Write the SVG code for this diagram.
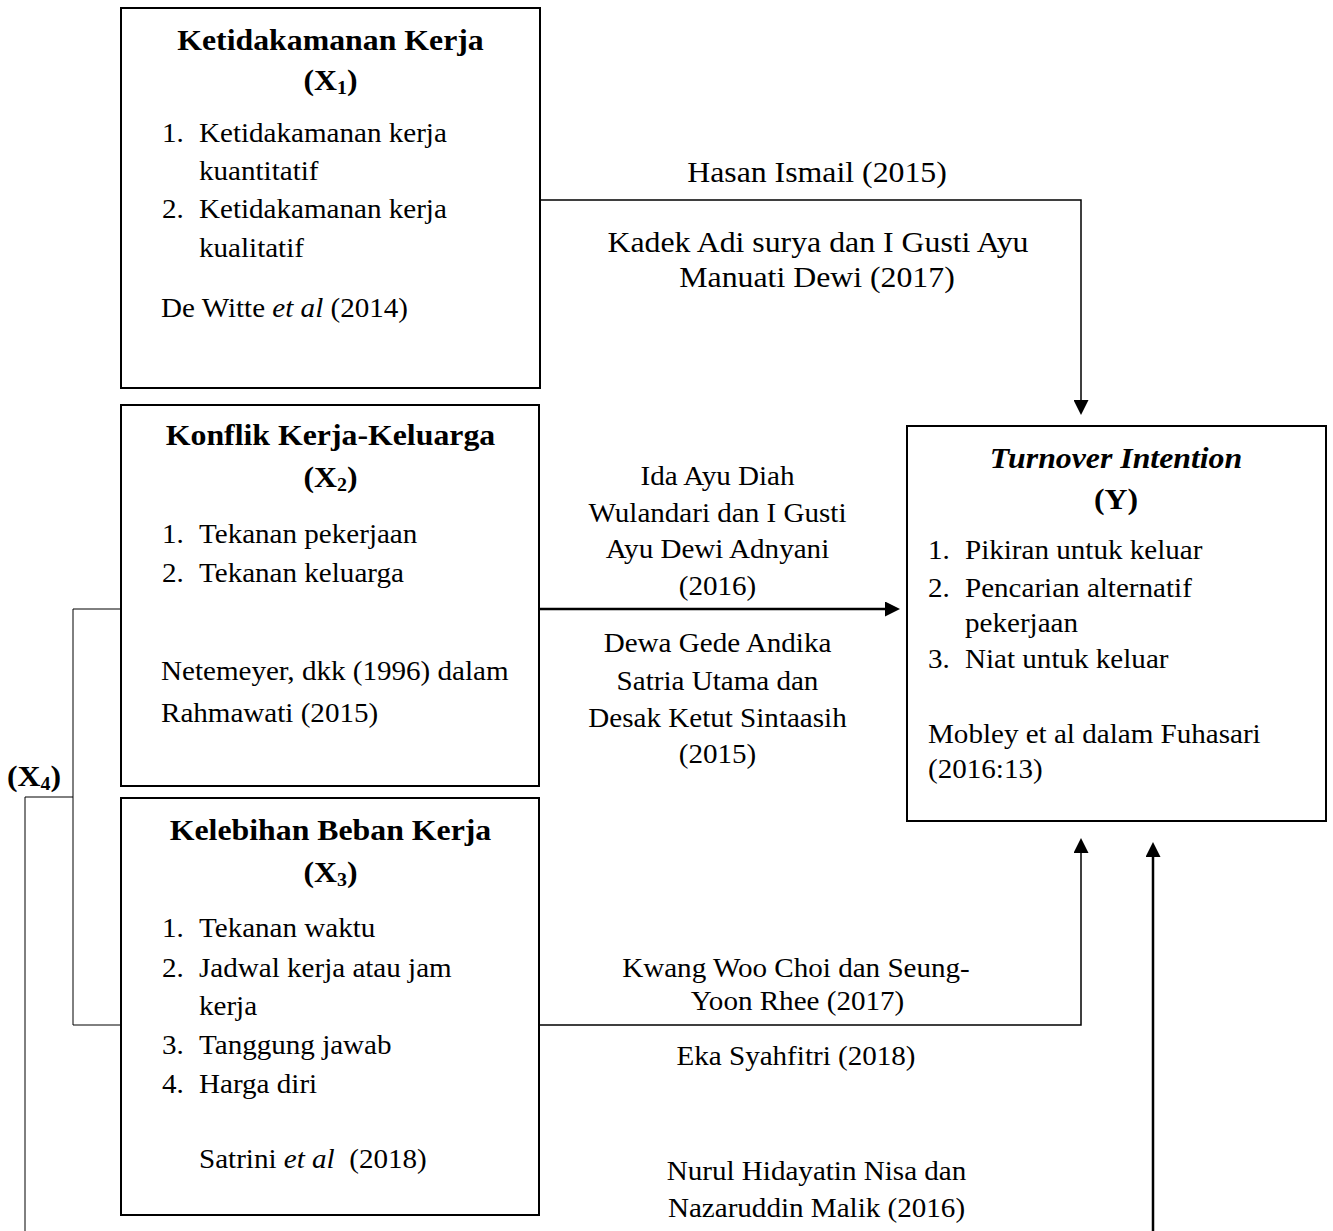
<svg xmlns="http://www.w3.org/2000/svg" width="1333" height="1231" viewBox="0 0 1333 1231">
<style>
.t{font-family:"Liberation Serif","Times New Roman",serif;fill:#000}
.s{font-size:27.7px}
.L{font-size:30.3px}
.bd{font-weight:bold}
.m{text-anchor:middle}
.box{fill:#fff;stroke:#000;stroke-width:2}
.ln{fill:none;stroke:#000}
</style>
<defs>
<marker id="ah" markerUnits="userSpaceOnUse" viewBox="0 0 15 15" refX="5" refY="7.5" markerWidth="15" markerHeight="15" orient="auto">
<path d="M0,0 L15,7.5 L0,15 z" fill="#000"/>
</marker>
</defs>
<rect width="1333" height="1231" fill="#fff"/>

<g id="connectors">
<path class="ln" stroke-width="1.5" d="M540,200 H1081 V405" marker-end="url(#ah)"/>
<path class="ln" stroke-width="2.5" d="M540,609 H890" marker-end="url(#ah)"/>
<path class="ln" stroke-width="1.5" d="M540,1025 H1081 V848" marker-end="url(#ah)"/>
<path class="ln" stroke-width="2.5" d="M1153,1231 V852" marker-end="url(#ah)"/>
<path class="ln" stroke-width="1" d="M121,609 H73 V1025 H121"/>
<path class="ln" stroke-width="1" d="M73,797 H25 V1231"/>
</g>

<g id="labels">
<text class="t L m" transform="translate(817,182) scale(1.05,1)">Hasan Ismail (2015)</text>
<text class="t L m" transform="translate(818,252) scale(1.05,1)">Kadek Adi surya dan I Gusti Ayu</text>
<text class="t L m" transform="translate(817,287) scale(1.05,1)">Manuati Dewi (2017)</text>

<text class="t s m" transform="translate(717.5,485) scale(1.05,1)">Ida Ayu Diah</text>
<text class="t s m" transform="translate(717.5,522) scale(1.05,1)">Wulandari dan I Gusti</text>
<text class="t s m" transform="translate(717.5,558) scale(1.05,1)">Ayu Dewi Adnyani</text>
<text class="t s m" transform="translate(717.5,595) scale(1.05,1)">(2016)</text>
<text class="t s m" transform="translate(717.5,652) scale(1.05,1)">Dewa Gede Andika</text>
<text class="t s m" transform="translate(717.5,690) scale(1.05,1)">Satria Utama dan</text>
<text class="t s m" transform="translate(717.5,727) scale(1.05,1)">Desak Ketut Sintaasih</text>
<text class="t s m" transform="translate(717.5,763) scale(1.05,1)">(2015)</text>

<text class="t s m" transform="translate(796,977) scale(1.05,1)">Kwang Woo Choi dan Seung-</text>
<text class="t s m" transform="translate(797.5,1010) scale(1.05,1)">Yoon Rhee (2017)</text>
<text class="t s m" transform="translate(796,1065) scale(1.05,1)">Eka Syahfitri (2018)</text>
<text class="t s m" transform="translate(816.5,1180) scale(1.05,1)">Nurul Hidayatin Nisa dan</text>
<text class="t s m" transform="translate(816.5,1217) scale(1.05,1)">Nazaruddin Malik (2016)</text>

<text class="t L bd" transform="translate(7,786) scale(1.05,1)">(X<tspan font-size="19" dy="4">4</tspan><tspan dy="-4">)</tspan></text>
</g>

<g id="node-x1">
<rect class="box" x="121" y="8" width="419" height="380"/>
<text class="t L bd m" transform="translate(330.5,50) scale(1.05,1)">Ketidakamanan Kerja</text>
<text class="t L bd m" transform="translate(330.5,90) scale(1.05,1)">(X<tspan font-size="19" dy="4">1</tspan><tspan dy="-4">)</tspan></text>
<text class="t s" transform="translate(162,142) scale(1.05,1)">1.</text>
<text class="t s" transform="translate(199,142) scale(1.05,1)">Ketidakamanan kerja</text>
<text class="t s" transform="translate(199,180) scale(1.05,1)">kuantitatif</text>
<text class="t s" transform="translate(162,218) scale(1.05,1)">2.</text>
<text class="t s" transform="translate(199,218) scale(1.05,1)">Ketidakamanan kerja</text>
<text class="t s" transform="translate(199,257) scale(1.05,1)">kualitatif</text>
<text class="t s" transform="translate(161,317) scale(1.05,1)">De Witte <tspan font-style="italic">et al</tspan> (2014)</text>
</g>

<g id="node-x2">
<rect class="box" x="121" y="405" width="418" height="381"/>
<text class="t L bd m" transform="translate(330.5,445) scale(1.05,1)">Konflik Kerja-Keluarga</text>
<text class="t L bd m" transform="translate(330.5,487) scale(1.05,1)">(X<tspan font-size="19" dy="4">2</tspan><tspan dy="-4">)</tspan></text>
<text class="t s" transform="translate(162,543) scale(1.05,1)">1.</text>
<text class="t s" transform="translate(199,543) scale(1.05,1)">Tekanan pekerjaan</text>
<text class="t s" transform="translate(162,582) scale(1.05,1)">2.</text>
<text class="t s" transform="translate(199,582) scale(1.05,1)">Tekanan keluarga</text>
<text class="t s" transform="translate(161,680) scale(1.05,1)">Netemeyer, dkk (1996) dalam</text>
<text class="t s" transform="translate(161,722) scale(1.05,1)">Rahmawati (2015)</text>
</g>

<g id="node-x3">
<rect class="box" x="121" y="798" width="418" height="417"/>
<text class="t L bd m" transform="translate(330.5,840) scale(1.05,1)">Kelebihan Beban Kerja</text>
<text class="t L bd m" transform="translate(330.5,882) scale(1.05,1)">(X<tspan font-size="19" dy="4">3</tspan><tspan dy="-4">)</tspan></text>
<text class="t s" transform="translate(162,937) scale(1.05,1)">1.</text>
<text class="t s" transform="translate(199,937) scale(1.05,1)">Tekanan waktu</text>
<text class="t s" transform="translate(162,977) scale(1.05,1)">2.</text>
<text class="t s" transform="translate(199,977) scale(1.05,1)">Jadwal kerja atau jam</text>
<text class="t s" transform="translate(199,1015) scale(1.05,1)">kerja</text>
<text class="t s" transform="translate(162,1054) scale(1.05,1)">3.</text>
<text class="t s" transform="translate(199,1054) scale(1.05,1)">Tanggung jawab</text>
<text class="t s" transform="translate(162,1093) scale(1.05,1)">4.</text>
<text class="t s" transform="translate(199,1093) scale(1.05,1)">Harga diri</text>
<text class="t s" transform="translate(199,1168) scale(1.05,1)" xml:space="preserve">Satrini <tspan font-style="italic">et al</tspan>  (2018)</text>
</g>

<g id="node-y">
<rect class="box" x="907" y="426" width="419" height="395"/>
<text class="t L bd m" font-style="italic" transform="translate(1116,468) scale(1.05,1)">Turnover Intention</text>
<text class="t L bd m" transform="translate(1116,509) scale(1.05,1)">(Y)</text>
<text class="t s" transform="translate(928,559) scale(1.05,1)">1.</text>
<text class="t s" transform="translate(965,559) scale(1.05,1)">Pikiran untuk keluar</text>
<text class="t s" transform="translate(928,597) scale(1.05,1)">2.</text>
<text class="t s" transform="translate(965,597) scale(1.05,1)">Pencarian alternatif</text>
<text class="t s" transform="translate(965,632) scale(1.05,1)">pekerjaan</text>
<text class="t s" transform="translate(928,668) scale(1.05,1)">3.</text>
<text class="t s" transform="translate(965,668) scale(1.05,1)">Niat untuk keluar</text>
<text class="t s" transform="translate(928,743) scale(1.05,1)">Mobley et al dalam Fuhasari</text>
<text class="t s" transform="translate(928,778) scale(1.05,1)">(2016:13)</text>
</g>
</svg>
